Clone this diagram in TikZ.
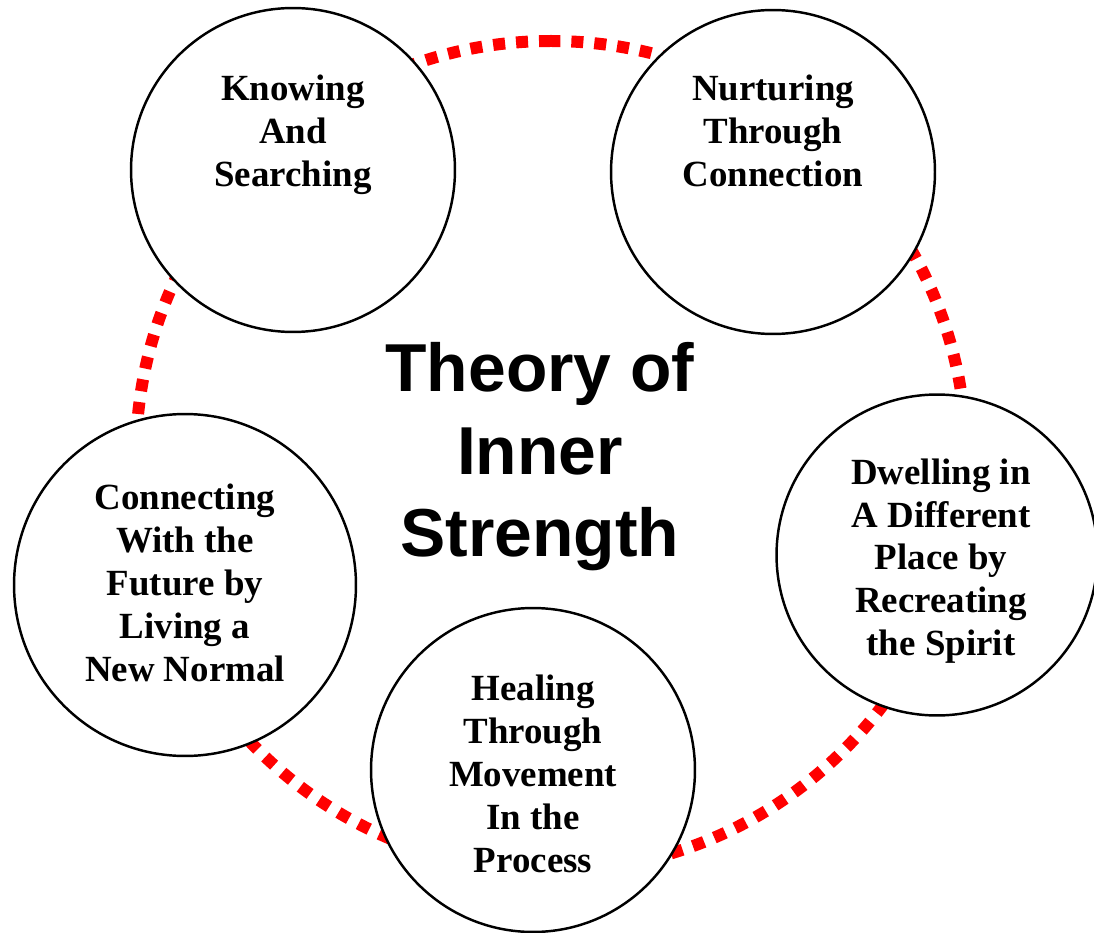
\documentclass[tikz,border=0pt]{standalone}
\usepackage{fontspec}
\setmainfont{Liberation Serif}
\newfontfamily\titlefont{Liberation Sans}
\usetikzlibrary{positioning}

\begin{document}
\begin{tikzpicture}[x=0.02cm,y=0.02cm]
        \tikzset{phase/.style={draw,circle,line width=1.4pt,fill=white,inner sep=0pt},
                 ptext/.style={align=center,font=\fontsize{21}{24.4}\selectfont\bfseries},
                 ring/.style={draw=red,line width=0.24cm,dash pattern=on 0.24cm off 0.22cm}}
        \useasboundingbox (0,0) rectangle (1094,-932);
        \coordinate (O) at (551,-456);
        \draw[ring] (O) ++(90:415) arc[start angle=90,end angle=450,radius=415];
        % the five phases
        \node[phase,minimum size=6.48cm](K) at (293,-170) {};
        \node[phase,minimum size=6.48cm](N) at (773,-172) {};
        \node[phase,minimum size=6.42cm](D) at (937,-555) {};
        \node[phase,minimum size=6.48cm](H) at (533,-770) {};
        \node[phase,minimum size=6.84cm](C) at (185,-585) {};
        \node[ptext](Kt) at (293,-135) {Knowing\\And\\Searching};
        \node[ptext](Nt) at (773,-131) {Nurturing\\Through\\Connection};
        \node[ptext](Dt) at (941,-561) {Dwelling in\\A Different\\Place by\\Recreating\\the Spirit};
        \node[ptext](Ht) at (533,-774) {Healing\\Through\\Movement\\In the\\Process};
        \node[ptext](Ct) at (185,-583) {Connecting\\With the\\Future by\\Living a\\New Normal};
        \node[align=center,font=\titlefont\fontsize{38.6}{47}\selectfont\bfseries](T) at (540,-457) {Theory of\\Inner\\Strength};
    \end{tikzpicture}
\end{document}
